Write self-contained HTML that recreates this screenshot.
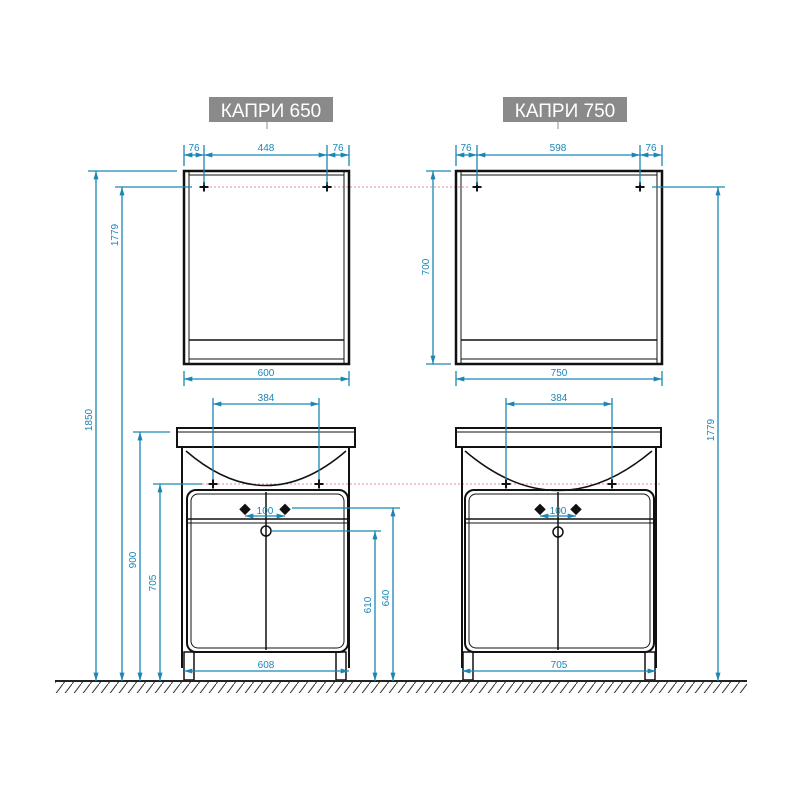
<!DOCTYPE html>
<html><head><meta charset="utf-8"><style>
html,body{margin:0;padding:0;background:#fff;}
svg{display:block;}
text{font-family:"Liberation Sans",sans-serif;}
</style></head><body>
<svg width="800" height="800" viewBox="0 0 800 800" xmlns="http://www.w3.org/2000/svg">
<defs>
<marker id="a" viewBox="0 0 10 6" refX="10" refY="3" markerWidth="9" markerHeight="5" orient="auto-start-reverse" markerUnits="userSpaceOnUse"><path d="M0,0 L10,3 L0,6z" fill="#1b86b4"/></marker>
<pattern id="h" width="9" height="12" patternUnits="userSpaceOnUse"><line x1="9" y1="0" x2="0" y2="12" stroke="#333" stroke-width="1"/></pattern>
</defs>
<rect width="800" height="800" fill="#fff"/>

<rect x="209" y="97" width="124" height="25" fill="#8a8a8a"/>
<text x="271" y="117" font-size="19" fill="#fff" text-anchor="middle">КАПРИ 650</text>
<line x1="267" y1="122" x2="267" y2="129" stroke="#888" stroke-width="1"/>
<rect x="503" y="97" width="124" height="25" fill="#8a8a8a"/>
<text x="565" y="117" font-size="19" fill="#fff" text-anchor="middle">КАПРИ 750</text>
<line x1="558" y1="122" x2="558" y2="129" stroke="#888" stroke-width="1"/>

<g stroke="#f08a9a" stroke-width="1" stroke-dasharray="2,2">
<line x1="210" y1="187" x2="470" y2="187"/>
<line x1="190" y1="484" x2="660" y2="484"/>
</g>

<g fill="none" stroke="#111">
<rect x="184" y="171" width="165" height="193" stroke-width="2.5"/>
<line x1="189" y1="172" x2="189" y2="363" stroke-width="1"/>
<line x1="344" y1="172" x2="344" y2="363" stroke-width="1"/>
<line x1="189" y1="175" x2="344" y2="175" stroke-width="1"/>
<line x1="189" y1="340" x2="344" y2="340" stroke-width="1.5"/>
<line x1="189" y1="359" x2="344" y2="359" stroke-width="1"/>
<rect x="456" y="171" width="206" height="193" stroke-width="2.5"/>
<line x1="461" y1="172" x2="461" y2="363" stroke-width="1"/>
<line x1="657" y1="172" x2="657" y2="363" stroke-width="1"/>
<line x1="461" y1="175" x2="657" y2="175" stroke-width="1"/>
<line x1="461" y1="340" x2="657" y2="340" stroke-width="1.5"/>
<line x1="461" y1="359" x2="657" y2="359" stroke-width="1"/>
</g>
<g font-size="18" font-weight="bold" fill="#111" text-anchor="middle">
<text x="204" y="193">+</text><text x="327" y="193">+</text>
<text x="477" y="193">+</text><text x="640" y="193">+</text>
</g>

<g fill="none" stroke="#111">
<path d="M177,428 H355 V447 H177 Z" stroke-width="2"/>
<line x1="177" y1="432" x2="355" y2="432" stroke-width="1"/>
<line x1="182" y1="448" x2="182" y2="668" stroke-width="2"/>
<line x1="349" y1="448" x2="349" y2="668" stroke-width="2"/>
<path d="M186,451 Q266,520 346,451" stroke-width="1.5"/>
<rect x="187" y="490" width="161" height="162" rx="9" stroke-width="2"/>
<rect x="191" y="494" width="153" height="154" rx="7" stroke-width="1"/>
<line x1="188" y1="519" x2="347" y2="519" stroke-width="1.5"/>
<line x1="188" y1="523" x2="347" y2="523" stroke-width="1"/>
<line x1="266" y1="492" x2="266" y2="650" stroke-width="1.5"/>
<circle cx="266" cy="531" r="5" stroke-width="1.5"/>
<rect x="184" y="652" width="10" height="28" stroke-width="1.5"/>
<rect x="336" y="652" width="10" height="28" stroke-width="1.5"/>
<path d="M456,428 H661 V447 H456 Z" stroke-width="2"/>
<line x1="456" y1="432" x2="661" y2="432" stroke-width="1"/>
<line x1="462" y1="448" x2="462" y2="668" stroke-width="2"/>
<line x1="656" y1="448" x2="656" y2="668" stroke-width="2"/>
<path d="M465,451 Q558,530 652,451" stroke-width="1.5"/>
<rect x="465" y="490" width="189" height="162" rx="9" stroke-width="2"/>
<rect x="469" y="494" width="181" height="154" rx="7" stroke-width="1"/>
<line x1="466" y1="519" x2="653" y2="519" stroke-width="1.5"/>
<line x1="466" y1="523" x2="653" y2="523" stroke-width="1"/>
<line x1="558" y1="492" x2="558" y2="650" stroke-width="1.5"/>
<circle cx="558" cy="532" r="5" stroke-width="1.5"/>
<rect x="463" y="652" width="10" height="28" stroke-width="1.5"/>
<rect x="645" y="652" width="10" height="28" stroke-width="1.5"/>
</g>
<g font-size="18" font-weight="bold" fill="#111" text-anchor="middle">
<text x="213" y="490">+</text><text x="319" y="490">+</text>
<text x="506" y="490">+</text><text x="612" y="490">+</text>
<text x="245" y="513" font-size="14">◆</text><text x="285" y="513" font-size="14">◆</text>
<text x="540" y="513" font-size="14">◆</text><text x="576" y="513" font-size="14">◆</text>
</g>

<rect x="55" y="682" width="692" height="11" fill="url(#h)"/>
<line x1="55" y1="681" x2="747" y2="681" stroke="#222" stroke-width="2"/>

<g stroke="#1b86b4" stroke-width="1.3" fill="none">
<line x1="184" y1="145" x2="184" y2="166"/><line x1="204" y1="145" x2="204" y2="185"/>
<line x1="327" y1="145" x2="327" y2="185"/><line x1="349" y1="145" x2="349" y2="166"/>
<line x1="184" y1="155" x2="204" y2="155" marker-start="url(#a)" marker-end="url(#a)"/>
<line x1="204" y1="155" x2="327" y2="155" marker-start="url(#a)" marker-end="url(#a)"/>
<line x1="327" y1="155" x2="349" y2="155" marker-start="url(#a)" marker-end="url(#a)"/>
<line x1="184" y1="371" x2="184" y2="386"/><line x1="349" y1="371" x2="349" y2="386"/>
<line x1="184" y1="379" x2="349" y2="379" marker-start="url(#a)" marker-end="url(#a)"/>
<line x1="456" y1="145" x2="456" y2="166"/><line x1="477" y1="145" x2="477" y2="185"/>
<line x1="640" y1="145" x2="640" y2="185"/><line x1="662" y1="145" x2="662" y2="166"/>
<line x1="456" y1="155" x2="477" y2="155" marker-start="url(#a)" marker-end="url(#a)"/>
<line x1="477" y1="155" x2="640" y2="155" marker-start="url(#a)" marker-end="url(#a)"/>
<line x1="640" y1="155" x2="662" y2="155" marker-start="url(#a)" marker-end="url(#a)"/>
<line x1="456" y1="371" x2="456" y2="386"/><line x1="662" y1="371" x2="662" y2="386"/>
<line x1="456" y1="379" x2="662" y2="379" marker-start="url(#a)" marker-end="url(#a)"/>
<line x1="426" y1="171" x2="451" y2="171"/><line x1="426" y1="364" x2="451" y2="364"/>
<line x1="433" y1="171" x2="433" y2="364" marker-start="url(#a)" marker-end="url(#a)"/>
<line x1="213" y1="398" x2="213" y2="480"/><line x1="319" y1="398" x2="319" y2="480"/>
<line x1="213" y1="404" x2="319" y2="404" marker-start="url(#a)" marker-end="url(#a)"/>
<line x1="506" y1="398" x2="506" y2="480"/><line x1="612" y1="398" x2="612" y2="480"/>
<line x1="506" y1="404" x2="612" y2="404" marker-start="url(#a)" marker-end="url(#a)"/>
<line x1="245" y1="516" x2="285" y2="516" marker-start="url(#a)" marker-end="url(#a)"/>
<line x1="540" y1="516" x2="576" y2="516" marker-start="url(#a)" marker-end="url(#a)"/>
<line x1="184" y1="671" x2="349" y2="671" marker-start="url(#a)" marker-end="url(#a)"/>
<line x1="462" y1="671" x2="656" y2="671" marker-start="url(#a)" marker-end="url(#a)"/>
<line x1="88" y1="171" x2="177" y2="171"/>
<line x1="96" y1="171" x2="96" y2="681" marker-start="url(#a)" marker-end="url(#a)"/>
<line x1="115" y1="187" x2="192" y2="187"/>
<line x1="122" y1="187" x2="122" y2="681" marker-start="url(#a)" marker-end="url(#a)"/>
<line x1="133" y1="432" x2="170" y2="432"/>
<line x1="140" y1="432" x2="140" y2="681" marker-start="url(#a)" marker-end="url(#a)"/>
<line x1="153" y1="484" x2="202" y2="484"/>
<line x1="160" y1="484" x2="160" y2="681" marker-start="url(#a)" marker-end="url(#a)"/>
<line x1="272" y1="531" x2="381" y2="531"/>
<line x1="375" y1="531" x2="375" y2="681" marker-start="url(#a)" marker-end="url(#a)"/>
<line x1="292" y1="508" x2="400" y2="508"/>
<line x1="393" y1="508" x2="393" y2="681" marker-start="url(#a)" marker-end="url(#a)"/>
<line x1="652" y1="187" x2="725" y2="187"/>
<line x1="718" y1="187" x2="718" y2="681" marker-start="url(#a)" marker-end="url(#a)"/>
</g>
<g font-size="10" fill="#1b86b4" text-anchor="middle">
<text x="194" y="151">76</text><text x="266" y="151">448</text><text x="338" y="151">76</text>
<text x="466" y="151">76</text><text x="558" y="151">598</text><text x="651" y="151">76</text>
<text x="266" y="376">600</text><text x="559" y="376">750</text>
<text x="266" y="401">384</text><text x="559" y="401">384</text>
<text x="265" y="514">100</text><text x="558" y="514">100</text>
<text x="266" y="668">608</text><text x="559" y="668">705</text>
<text transform="translate(429,267) rotate(-90)">700</text>
<text transform="translate(92,420) rotate(-90)">1850</text>
<text transform="translate(118,235) rotate(-90)">1779</text>
<text transform="translate(136,560) rotate(-90)">900</text>
<text transform="translate(156,583) rotate(-90)">705</text>
<text transform="translate(371,605) rotate(-90)">610</text>
<text transform="translate(389,598) rotate(-90)">640</text>
<text transform="translate(714,430) rotate(-90)">1779</text>
</g>
</svg>
</body></html>
